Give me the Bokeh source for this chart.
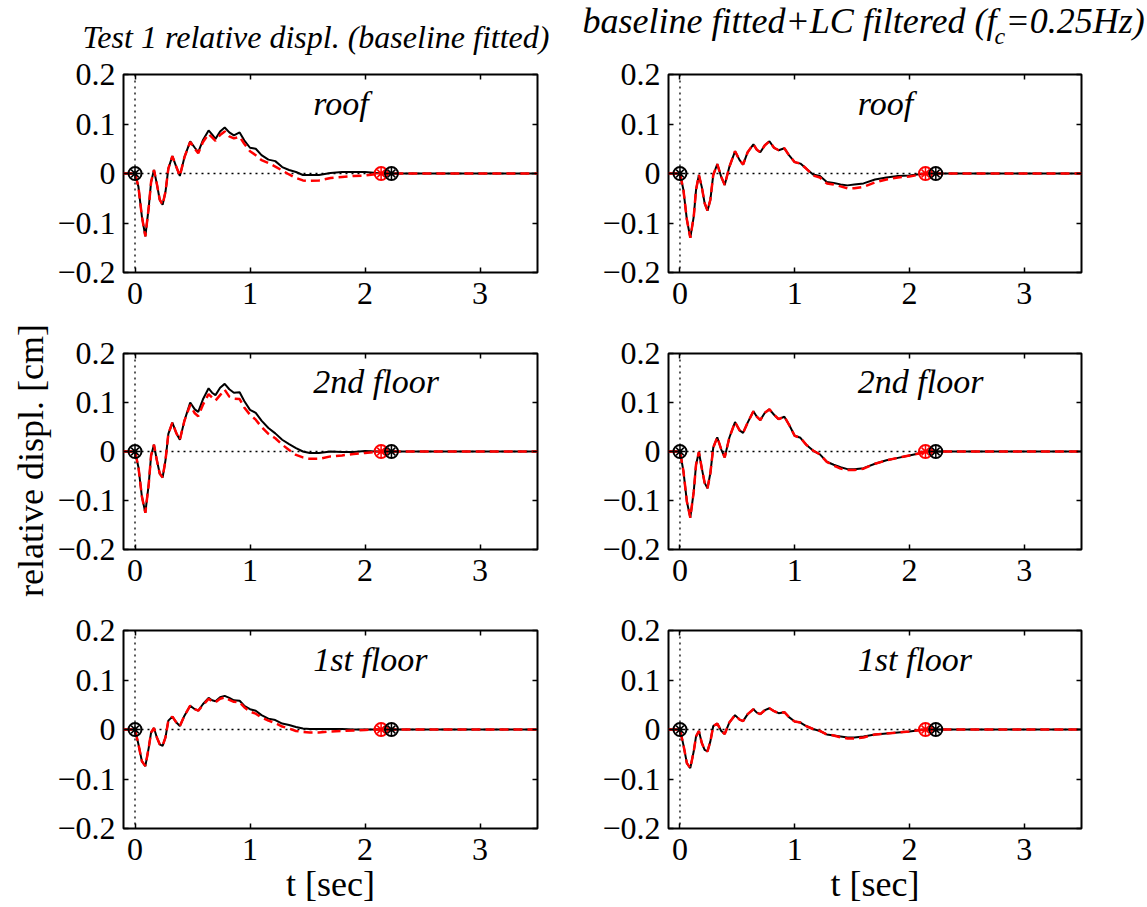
import math
from bokeh.plotting import figure
from bokeh.layouts import column, row
from bokeh.models import (FixedTicker, LinearAxis, Range1d, Span, Label,
                          CustomJSTickFormatter)
from bokeh.embed import file_html
from bokeh.resources import INLINE

# ---------------- data ----------------
t = [-0.1, 0, 0.03, 0.06, 0.09, 0.12, 0.14, 0.165, 0.19, 0.215, 0.24, 0.265,
     0.29, 0.325, 0.36, 0.39, 0.43, 0.48, 0.52, 0.55, 0.59, 0.64, 0.67, 0.70,
     0.74, 0.78, 0.82, 0.86, 0.91, 0.95, 1.0, 1.05, 1.1, 1.16, 1.22, 1.28,
     1.34, 1.4, 1.46, 1.52, 1.6, 1.7, 1.8, 1.9, 2.0, 2.1, 2.14, 2.23, 3.5]

roof_bf_black = [0, 0, -0.027, -0.087, -0.127, -0.067, -0.017, 0.007, -0.021, -0.053, -0.063, -0.037,
                 0.010, 0.035, 0.013, -0.005, 0.033, 0.065, 0.052, 0.043, 0.067, 0.087, 0.079, 0.070,
                 0.085, 0.093, 0.083, 0.077, 0.083, 0.067, 0.052, 0.050, 0.037, 0.028, 0.025, 0.013,
                 0.007, 0.003, -0.003, -0.003, -0.003, 0.001, 0.003, 0.003, 0.003, 0.001, 0, 0, 0]
roof_bf_red = [0, 0, -0.027, -0.087, -0.127, -0.067, -0.017, 0.007, -0.021, -0.053, -0.063, -0.037,
               0.010, 0.035, 0.013, -0.005, 0.033, 0.064, 0.050, 0.041, 0.063, 0.080, 0.073, 0.066,
               0.078, 0.085, 0.075, 0.071, 0.074, 0.060, 0.045, 0.037, 0.027, 0.021, 0.014, 0.006,
               -0.002, -0.009, -0.014, -0.015, -0.014, -0.009, -0.007, -0.005, -0.004, -0.001, 0, 0, 0]
roof_lc_black = [0, 0, -0.033, -0.093, -0.130, -0.087, -0.033, -0.003, -0.027, -0.060, -0.075, -0.053,
                 -0.003, 0.019, -0.007, -0.023, 0.013, 0.045, 0.027, 0.018, 0.043, 0.059, 0.048, 0.043,
                 0.057, 0.065, 0.052, 0.047, 0.051, 0.037, 0.023, 0.020, 0.010, -0.002, -0.005, -0.017,
                 -0.019, -0.022, -0.024, -0.022, -0.020, -0.012, -0.008, -0.005, -0.004, -0.001, 0, 0, 0]
roof_lc_red = [0, 0, -0.033, -0.093, -0.130, -0.087, -0.033, -0.003, -0.027, -0.060, -0.075, -0.053,
               -0.003, 0.019, -0.007, -0.023, 0.013, 0.045, 0.027, 0.018, 0.043, 0.059, 0.048, 0.043,
               0.057, 0.065, 0.052, 0.047, 0.051, 0.037, 0.023, 0.020, 0.010, -0.004, -0.008, -0.020,
               -0.022, -0.026, -0.030, -0.030, -0.027, -0.018, -0.012, -0.008, -0.006, -0.002, 0, 0, 0]

floor2_bf_black = [0, 0, -0.032, -0.092, -0.125, -0.065, -0.008, 0.014, -0.018, -0.045, -0.053, -0.018,
                   0.036, 0.059, 0.037, 0.024, 0.063, 0.100, 0.086, 0.081, 0.106, 0.129, 0.120, 0.115,
                   0.130, 0.138, 0.127, 0.120, 0.121, 0.103, 0.085, 0.079, 0.063, 0.048, 0.037, 0.024,
                   0.015, 0.007, 0.000, -0.003, -0.003, 0.000, -0.001, -0.001, 0.001, 0, 0, 0, 0]
floor2_bf_red = [0, 0, -0.032, -0.092, -0.125, -0.065, -0.008, 0.014, -0.018, -0.045, -0.053, -0.018,
                 0.036, 0.059, 0.037, 0.024, 0.063, 0.095, 0.078, 0.072, 0.095, 0.117, 0.110, 0.104,
                 0.115, 0.126, 0.112, 0.108, 0.107, 0.090, 0.075, 0.065, 0.050, 0.036, 0.027, 0.014,
                 0.003, -0.007, -0.012, -0.015, -0.015, -0.010, -0.008, -0.005, -0.003, -0.001, 0, 0, 0]
floor2_lc_black = [0, 0, -0.040, -0.102, -0.135, -0.082, -0.027, -0.001, -0.034, -0.064, -0.075, -0.044,
                   0.008, 0.029, 0.004, -0.012, 0.028, 0.060, 0.043, 0.038, 0.059, 0.082, 0.071, 0.064,
                   0.079, 0.086, 0.075, 0.066, 0.071, 0.055, 0.032, 0.028, 0.014, 0.002, -0.006, -0.021,
                   -0.027, -0.032, -0.036, -0.036, -0.034, -0.025, -0.018, -0.013, -0.008, -0.003, 0, 0, 0]
floor2_lc_red = [0, 0, -0.040, -0.102, -0.135, -0.082, -0.027, -0.001, -0.034, -0.064, -0.075, -0.044,
                 0.008, 0.029, 0.004, -0.012, 0.028, 0.060, 0.043, 0.038, 0.059, 0.082, 0.071, 0.064,
                 0.079, 0.086, 0.075, 0.066, 0.071, 0.055, 0.032, 0.028, 0.014, 0.002, -0.006, -0.021,
                 -0.029, -0.035, -0.038, -0.038, -0.035, -0.025, -0.018, -0.013, -0.008, -0.003, 0, 0, 0]

floor1_bf_black = [0, 0, -0.030, -0.064, -0.074, -0.036, -0.006, 0.003, -0.016, -0.030, -0.033, -0.016,
                   0.018, 0.026, 0.014, 0.007, 0.028, 0.048, 0.041, 0.038, 0.051, 0.064, 0.059, 0.057,
                   0.065, 0.068, 0.064, 0.059, 0.058, 0.048, 0.041, 0.038, 0.029, 0.022, 0.019, 0.012,
                   0.009, 0.005, 0.002, 0.001, 0.001, 0.001, 0.001, 0, 0, 0, 0, 0, 0]
floor1_bf_red = [0, 0, -0.030, -0.064, -0.074, -0.036, -0.006, 0.003, -0.016, -0.030, -0.033, -0.016,
                 0.018, 0.026, 0.014, 0.007, 0.028, 0.048, 0.041, 0.038, 0.049, 0.062, 0.057, 0.055,
                 0.062, 0.065, 0.060, 0.056, 0.055, 0.045, 0.036, 0.032, 0.024, 0.018, 0.013, 0.006,
                 0.002, -0.003, -0.005, -0.006, -0.006, -0.004, -0.003, -0.002, -0.001, 0, 0, 0, 0]
floor1_lc_black = [0, 0, -0.031, -0.068, -0.078, -0.044, -0.014, -0.003, -0.027, -0.041, -0.044, -0.024,
                   0.007, 0.012, -0.003, -0.009, 0.014, 0.029, 0.020, 0.017, 0.031, 0.041, 0.034, 0.031,
                   0.039, 0.043, 0.037, 0.033, 0.035, 0.025, 0.016, 0.014, 0.007, 0.001, -0.003, -0.010,
                   -0.012, -0.014, -0.016, -0.016, -0.014, -0.010, -0.008, -0.006, -0.004, -0.001, 0, 0, 0]
floor1_lc_red = [0, 0, -0.031, -0.068, -0.078, -0.044, -0.014, -0.003, -0.027, -0.041, -0.044, -0.024,
                 0.007, 0.012, -0.003, -0.009, 0.014, 0.029, 0.020, 0.017, 0.031, 0.041, 0.034, 0.031,
                 0.039, 0.043, 0.037, 0.033, 0.035, 0.025, 0.016, 0.014, 0.007, 0.001, -0.003, -0.010,
                 -0.012, -0.016, -0.018, -0.018, -0.016, -0.010, -0.008, -0.006, -0.004, -0.001, 0, 0, 0]

black_marker_t = [0, 2.23]
black_marker_y = [0, 0]
red_marker_t = [2.14]
red_marker_y = [0]

x_ticks = [0, 1, 2, 3]
y_ticks = [-0.2, -0.1, 0, 0.1, 0.2]
panel_names = ["roof", "2nd floor", "1st floor"]
left_title = "Test 1 relative displ. (baseline fitted)"
right_title_parts = ["baseline fitted+LC filtered (f", "c", "=0.25Hz)"]
y_label = "relative displ. [cm]"
x_label = "t [sec]"

FONT = "Liberation Serif"
TICK_FS = "32px"

ytick_fmt = CustomJSTickFormatter(code="""
    if (Math.abs(tick) < 1e-9) { return '0'; }
    const s = Math.abs(tick).toFixed(1);
    return tick < 0 ? '\u2212' + s : s;
""")


def make_panel(black, red, name, fw, fh, bl, br, bt, bb):
    p = figure(frame_width=fw, frame_height=fh, title=None,
               x_range=Range1d(-0.1, 3.5), y_range=Range1d(-0.2, 0.2),
               output_backend="svg", toolbar_location=None,
               min_border_left=bl, min_border_right=br,
               min_border_top=bt, min_border_bottom=bb)
    p.grid.visible = False
    p.outline_line_color = "black"
    p.outline_line_width = 2
    p.background_fill_color = "white"
    p.border_fill_color = "white"

    for ax in p.xaxis:
        ax.ticker = FixedTicker(ticks=x_ticks)
        ax.major_label_standoff = 10
    for ax in p.yaxis:
        ax.ticker = FixedTicker(ticks=y_ticks)
        ax.formatter = ytick_fmt
        ax.major_label_standoff = 8
    for ax in list(p.xaxis) + list(p.yaxis):
        ax.axis_line_color = None
        ax.major_tick_in = 5
        ax.major_tick_out = 0
        ax.major_tick_line_width = 1.5
        ax.minor_tick_line_color = None
        ax.major_label_text_font = FONT
        ax.major_label_text_font_size = TICK_FS
        ax.major_label_text_color = "black"
        ax.axis_label_text_font = FONT
        ax.axis_label_text_font_style = "normal"
        ax.axis_label_text_font_size = "36px"
        ax.axis_label_text_color = "black"

    top = LinearAxis(ticker=FixedTicker(ticks=x_ticks), major_label_text_font_size="0px",
                     major_label_text_color=None,
                     major_tick_in=5, major_tick_out=0, major_tick_line_width=1.5,
                     minor_tick_line_color=None, axis_line_color=None, major_label_standoff=0)
    p.add_layout(top, "above")
    right = LinearAxis(ticker=FixedTicker(ticks=y_ticks), major_label_text_font_size="0px",
                       major_label_text_color=None,
                       major_tick_in=5, major_tick_out=0, major_tick_line_width=1.5,
                       minor_tick_line_color=None, axis_line_color=None, major_label_standoff=0)
    p.add_layout(right, "right")

    p.add_layout(Span(location=0, dimension="width", line_color="black",
                      line_width=1.3, line_dash="2 4", level="underlay"))
    p.add_layout(Span(location=0, dimension="height", line_color="black",
                      line_width=1.3, line_dash="2 4", level="underlay"))

    p.line(t, black, line_color="black", line_width=2)
    p.line(t, red, line_color="red", line_width=2.5, line_dash="9 5")

    p.scatter(red_marker_t, red_marker_y, marker="circle", size=13, fill_color=None,
              line_color="red", line_width=2)
    p.scatter(red_marker_t, red_marker_y, marker="asterisk", size=11,
              line_color="red", line_width=1.5)
    p.scatter(black_marker_t, black_marker_y, marker="circle", size=13, fill_color=None,
              line_color="black", line_width=2)
    p.scatter(black_marker_t, black_marker_y, marker="asterisk", size=11,
              line_color="black", line_width=1.5)

    p.add_layout(Label(x=1.55, y=0.142, text=name, text_font=FONT, text_font_style="italic",
                       text_font_size="34px", text_color="black", text_baseline="alphabetic",
                       text_align="left"))
    return p


# ---- title strip (frame spans whole strip, coordinates = page pixels) ----
TITLE_H = 55
tf = figure(width=1147, height=TITLE_H, title=None, x_range=Range1d(0, 1147),
            y_range=Range1d(TITLE_H, 0), x_axis_location=None, y_axis_location=None,
            min_border=0, output_backend="svg", toolbar_location=None)
tf.grid.visible = False
tf.outline_line_color = None
tf.add_layout(Label(x=82, y=36, text=left_title, text_font=FONT,
                    text_font_style="italic", text_font_size="32px", text_color="black",
                    text_baseline="alphabetic", text_align="left"))
tf.add_layout(Label(x=582, y=20, text=right_title_parts[0], text_font=FONT,
                    text_font_style="italic", text_font_size="36px", text_color="black",
                    text_baseline="alphabetic", text_align="left"))
tf.add_layout(Label(x=994, y=35, text=right_title_parts[1], text_font=FONT,
                    text_font_style="italic", text_font_size="24px", text_color="black",
                    text_baseline="alphabetic", text_align="left"))
tf.add_layout(Label(x=1005, y=20, text=right_title_parts[2], text_font=FONT,
                    text_font_style="italic", text_font_size="36px", text_color="black",
                    text_baseline="alphabetic", text_align="left"))

# ---- left strip for the shared y label (coordinates = page pixels) ----
LS_W = 54
ls = figure(width=LS_W, height=907 - TITLE_H, title=None, x_range=Range1d(0, LS_W),
            y_range=Range1d(907, TITLE_H), x_axis_location=None, y_axis_location=None,
            min_border=0, output_backend="svg", toolbar_location=None)
ls.grid.visible = False
ls.outline_line_color = None
ls.add_layout(Label(x=30, y=460, text=y_label, text_font=FONT, text_font_size="36px",
                    text_color="black", angle=math.pi / 2, text_align="center",
                    text_baseline="middle"))

# frame geometry
FW1, FW2 = 414, 413
BL1 = 122 - LS_W
p1 = make_panel(roof_bf_black, roof_bf_red, panel_names[0], FW1, 198, BL1, 61, 74 - TITLE_H, 50)
p2 = make_panel(roof_lc_black, roof_lc_red, panel_names[0], FW2, 198, 70, 67, 74 - TITLE_H, 50)
p3 = make_panel(floor2_bf_black, floor2_bf_red, panel_names[1], FW1, 196, BL1, 61, 31, 50)
p4 = make_panel(floor2_lc_black, floor2_lc_red, panel_names[1], FW2, 196, 70, 67, 31, 50)
p5 = make_panel(floor1_bf_black, floor1_bf_red, panel_names[2], FW1, 198, BL1, 61, 31, 79)
p6 = make_panel(floor1_lc_black, floor1_lc_red, panel_names[2], FW2, 198, 70, 67, 31, 79)

for pp in (p5, p6):
    pp.below[0].axis_label = x_label
    pp.below[0].axis_label_standoff = 1

grid = column(row(p1, p2), row(p3, p4), row(p5, p6))
layout = column(tf, row(ls, grid))
open("out.html", "w").write(file_html(layout, INLINE))
